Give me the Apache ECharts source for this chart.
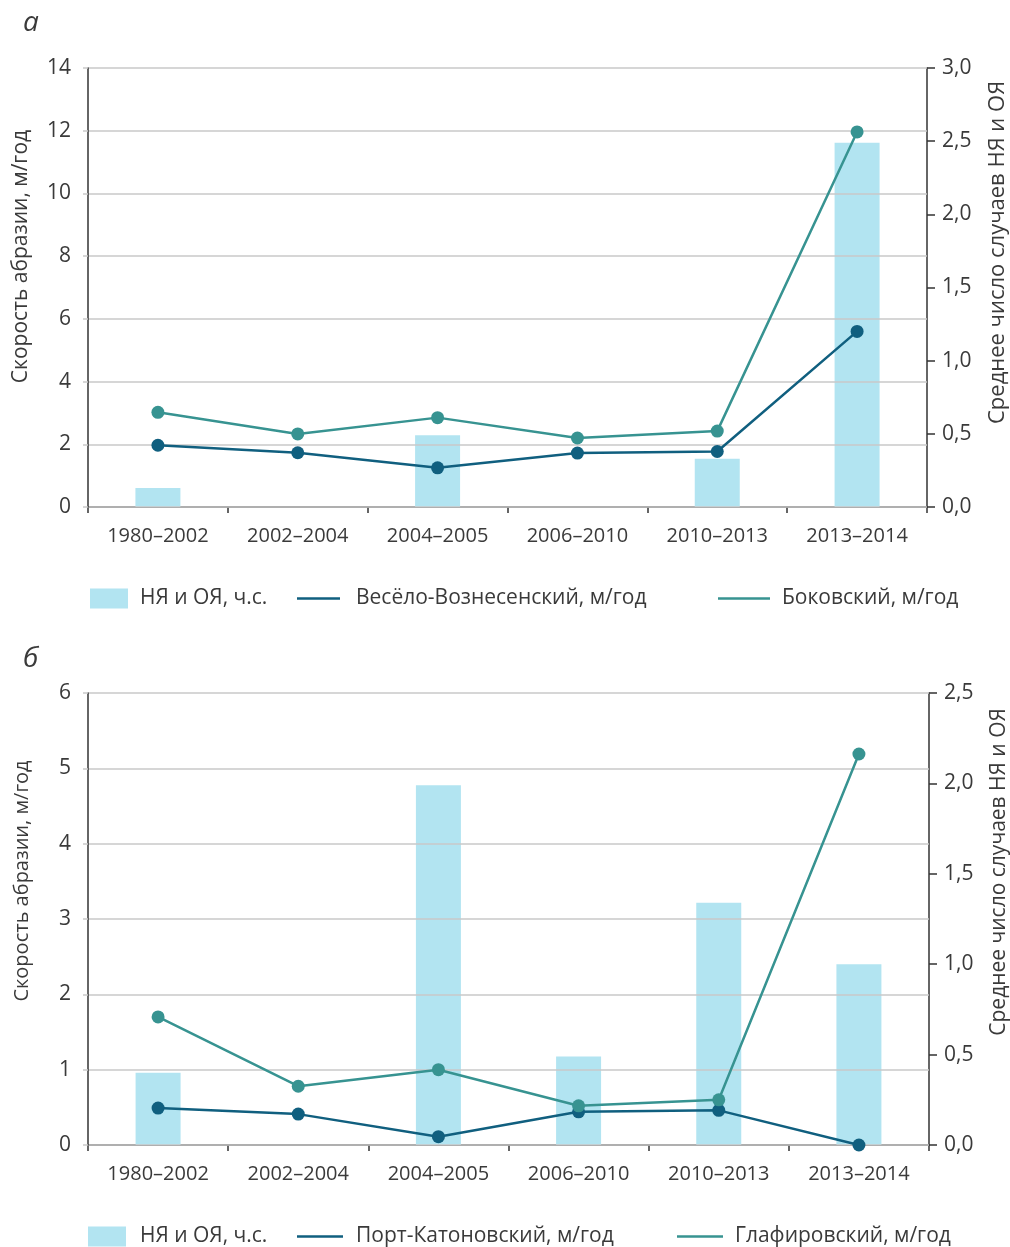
<!DOCTYPE html>
<html>
<head>
<meta charset="utf-8">
<script src="https://cdn.jsdelivr.net/npm/echarts@6/dist/echarts.min.js"></script>
<style>
  html, body { margin: 0; padding: 0; background: #fff; }
  #chart { width: 1010px; height: 1247px; }
</style>
</head>
<body>
<div id="chart"></div>
<script>
// периоды
var periods = ['1980–2002', '2002–2004', '2004–2005', '2006–2010', '2010–2013', '2013–2014'];

// а: Весёло-Вознесенский, Боковский (м/год), НЯ и ОЯ (ч.с.)
var veseloA = [1.97, 1.73, 1.25, 1.72, 1.77, 5.6];
var bokovA = [3.02, 2.33, 2.85, 2.2, 2.42, 11.96];
var eventsA = [0.13, 0, 0.49, 0, 0.33, 2.49];

// б: Порт-Катоновский, Глафировский (м/год), НЯ и ОЯ (ч.с.)
var portB = [0.49, 0.41, 0.11, 0.44, 0.46, 0];
var glafB = [1.7, 0.78, 1.0, 0.52, 0.6, 5.19];
var eventsB = [0.4, 0, 1.99, 0.49, 1.34, 1.0];

var FONT = 'Open Sans';
var TXT = '#3a3a3a';
var DARK = '#105f7f';
var TEAL = '#379391';
var BAR = '#b2e4f1';
var GRID = '#c9c9c9';

function comma(v) {
	return v.toFixed(1).replace('.', ',');
}

function leftAxis(grid, max, padTop, size) {
	return {
		type: 'value', gridIndex: grid, min: 0, max: max, interval: max === 14 ? 2 : 1,
		z: 3,
		name: 'Скорость абразии, м/год',
		nameLocation: 'middle', nameRotate: 90, nameGap: 56,
		nameTextStyle: { fontFamily: FONT, fontSize: size, color: TXT, padding: [0, 0, 0, padTop] },
		axisLine: { show: true, lineStyle: { color: '#333', width: 1.5 } },
		axisTick: { show: true, length: 5, lineStyle: { color: GRID, width: 1.5 } },
		axisLabel: { fontFamily: FONT, fontSize: 21, color: TXT, margin: 17 },
		splitLine: { lineStyle: { color: GRID, width: 1.5 } }
	};
}

function rightAxis(grid, max, padTop, size) {
	return {
		type: 'value', gridIndex: grid, position: 'right', min: 0, max: max, interval: 0.5,
		name: 'Среднее число случаев НЯ и ОЯ',
		nameLocation: 'middle', nameRotate: 90, nameGap: 60,
		nameTextStyle: { fontFamily: FONT, fontSize: size, color: TXT, padding: [0, 0, 0, padTop] },
		axisLine: { show: true, lineStyle: { color: '#333', width: 1.5 } },
		axisTick: { show: true, length: 8, lineStyle: { color: '#333', width: 1.5 } },
		axisLabel: { fontFamily: FONT, fontSize: 21, color: TXT, margin: 15, formatter: comma },
		splitLine: { show: false }
	};
}

function catAxis(grid) {
	return {
		type: 'category', gridIndex: grid, data: periods,
		axisLine: { show: true, lineStyle: { color: '#333', width: 1.5 } },
		axisTick: { show: true, length: 6, lineStyle: { color: '#333', width: 1.5 } },
		axisLabel: { fontFamily: FONT, fontSize: 20, color: TXT, margin: 19, interval: 0, hideOverlap: false }
	};
}

function barSeries(x, y, data) {
	return {
		name: 'НЯ и ОЯ, ч.с.', type: 'bar', xAxisIndex: x, yAxisIndex: y,
		data: data, barWidth: 45, z: 2,
		itemStyle: { color: BAR }
	};
}

function lineSeries(name, x, y, data, color) {
	return {
		name: name, type: 'line', xAxisIndex: x, yAxisIndex: y, data: data, z: 5,
		symbol: 'circle', symbolSize: 13,
		lineStyle: { color: color, width: 2.5 },
		itemStyle: { color: color }
	};
}

function legendItem(name, left, top, w, h, gap) {
	return {
		data: [{ name: name, icon: 'rect' }], left: left, top: top,
		itemWidth: w, itemHeight: h, padding: 0,
		selectedMode: false,
		textStyle: { fontFamily: FONT, fontSize: 21, color: TXT, padding: [0, 0, 0, gap] }
	};
}

var chart = echarts.init(document.getElementById('chart'), null, { renderer: 'canvas' });

var option = {
	animation: false,
	backgroundColor: '#fff',
	title: [
		{ text: 'а', left: 18, top: 4, textStyle: { fontFamily: FONT, fontStyle: 'italic', fontWeight: 'normal', fontSize: 28, color: TXT } },
		{ text: 'б', left: 18, top: 640, textStyle: { fontFamily: FONT, fontStyle: 'italic', fontWeight: 'normal', fontSize: 28, color: TXT } }
	],
	grid: [
		{ left: 88, right: 83, top: 68, bottom: 740, containLabel: false, outerBoundsMode: 'none' },
		{ left: 88, right: 81, top: 693, bottom: 102, containLabel: false, outerBoundsMode: 'none' }
	],
	xAxis: [catAxis(0), catAxis(1)],
	yAxis: [
		leftAxis(0, 14, 62, 21),
		rightAxis(0, 3, 70, 22),
		leftAxis(1, 6, 76, 20),
		rightAxis(1, 2.5, 94, 21)
	],
	legend: [
		legendItem('НЯ и ОЯ, ч.с.', 90, 588, 38, 20, 7),
		legendItem('Весёло-Вознесенский, м/год', 297, 588, 43, 2.5, 11),
		legendItem('Боковский, м/год', 718, 588, 52, 2.5, 7),
		legendItem('НЯ и ОЯ, ч.с.', 88, 1226, 38, 20, 9),
		legendItem('Порт-Катоновский, м/год', 297, 1226, 46, 2.5, 8),
		legendItem('Глафировский, м/год', 677, 1226, 46, 2.5, 7)
	],
	series: [
		barSeries(0, 1, eventsA),
		lineSeries('Весёло-Вознесенский, м/год', 0, 0, veseloA, DARK),
		lineSeries('Боковский, м/год', 0, 0, bokovA, TEAL),
		barSeries(1, 3, eventsB),
		lineSeries('Порт-Катоновский, м/год', 1, 2, portB, DARK),
		lineSeries('Глафировский, м/год', 1, 2, glafB, TEAL)
	]
};

chart.setOption(option);
</script>
</body>
</html>
